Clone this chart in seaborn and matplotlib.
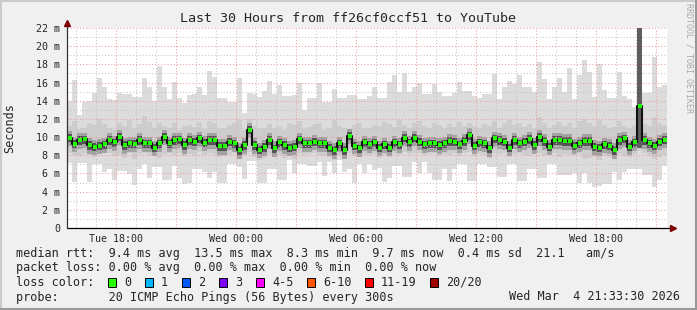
import numpy as np
import pandas as pd
import matplotlib
matplotlib.use("Agg")
import matplotlib.pyplot as plt
import matplotlib.dates as mdates
from matplotlib.patches import Rectangle
from matplotlib.lines import Line2D
from matplotlib.ticker import FixedLocator, FuncFormatter, MultipleLocator
import seaborn as sns

# ---------------- data ----------------
START = "2026-03-03 15:33:30"
END = "2026-03-04 21:33:30"
STEP = "15min"

median_ms = [
    9.93, 9.27, 9.67, 9.75, 9.13, 8.95, 9.05, 9.20, 9.67, 9.42, 10.04, 9.13, 9.31, 9.27, 9.67, 9.31, 9.31, 8.84, 9.31, 10.04,
    9.30, 9.67, 9.75, 9.13, 9.67, 9.50, 9.86, 9.38, 9.67, 9.67, 9.02, 9.02, 9.50, 9.31, 8.58, 9.13, 10.80, 9.13, 8.60, 8.90,
    9.67, 8.77, 9.42, 9.13, 8.84, 8.95, 9.75, 9.31, 9.31, 9.50, 9.31, 9.31, 8.84, 8.58, 9.31, 8.58, 10.15, 9.05, 8.77, 9.42,
    9.20, 9.42, 8.84, 9.20, 8.84, 9.42, 9.20, 9.93, 9.42, 9.93, 9.50, 9.20, 9.31, 9.31, 9.13, 9.31, 9.57, 9.50, 9.20, 9.57,
    10.20, 9.05, 9.42, 9.31, 8.77, 9.86, 9.67, 9.50, 8.84, 9.67, 9.31, 9.50, 9.78, 9.13, 10.00, 9.57, 8.95, 9.67, 9.67, 9.57,
    9.57, 9.05, 9.31, 9.57, 9.57, 8.95, 8.84, 9.20, 9.05, 8.58, 9.67, 9.86, 8.95, 9.42, 13.45, 9.67, 9.31, 9.05, 9.50, 9.70,
]
max_ms = [
    14.0, 16.3, 12.4, 13.9, 14.0, 14.9, 16.5, 15.5, 14.2, 14.1, 14.8, 14.7, 14.7, 14.4, 14.4, 16.5, 15.5, 14.0, 17.8, 15.5,
    14.2, 16.1, 14.3, 13.8, 14.6, 14.7, 15.5, 14.6, 17.3, 16.6, 14.3, 14.3, 13.9, 13.9, 16.5, 12.6, 14.8, 14.7, 14.4, 15.1,
    16.2, 14.7, 15.7, 14.5, 14.5, 14.6, 16.0, 13.0, 14.3, 14.3, 16.0, 13.9, 13.9, 15.3, 14.3, 14.3, 14.6, 14.6, 14.2, 14.2,
    14.5, 15.5, 14.3, 14.3, 16.1, 16.8, 15.0, 17.0, 15.0, 15.5, 16.0, 14.7, 14.7, 15.8, 15.0, 14.5, 14.5, 14.8, 16.1, 15.1,
    15.1, 14.5, 14.3, 14.7, 14.7, 16.9, 14.2, 15.5, 16.2, 15.8, 16.8, 15.5, 15.5, 15.0, 18.3, 16.4, 14.2, 15.5, 16.5, 15.0,
    17.6, 14.2, 16.8, 18.5, 17.2, 14.4, 18.0, 15.2, 14.3, 14.3, 17.2, 14.5, 14.2, 13.3, 22.0, 14.8, 14.8, 18.8, 15.5, 15.7,
]
min_ms = [
    7.2, 5.1, 7.1, 7.1, 5.1, 7.0, 7.0, 6.2, 6.5, 5.3, 6.3, 6.3, 5.9, 4.7, 6.5, 7.0, 5.5, 6.7, 6.7, 5.3,
    5.3, 6.8, 5.5, 4.8, 5.0, 6.5, 6.5, 6.2, 5.5, 6.2, 5.0, 5.0, 7.0, 7.0, 6.7, 5.4, 7.4, 7.4, 5.0, 5.0,
    6.5, 6.5, 5.3, 5.3, 7.5, 6.0, 7.0, 7.0, 6.8, 6.8, 7.3, 5.7, 7.3, 6.0, 7.5, 6.2, 6.5, 4.9, 7.0, 6.0,
    7.0, 6.4, 6.6, 5.1, 5.5, 6.8, 6.8, 5.6, 5.6, 7.3, 6.0, 7.3, 6.0, 5.3, 5.3, 6.5, 5.2, 6.5, 7.0, 7.0,
    5.2, 5.2, 7.0, 7.0, 6.7, 6.7, 5.6, 5.6, 7.0, 7.0, 5.2, 5.2, 6.5, 6.5, 5.5, 5.5, 7.0, 7.0, 5.8, 5.8,
    5.8, 6.0, 5.0, 6.0, 5.0, 4.5, 4.6, 4.8, 4.8, 6.2, 5.3, 6.2, 6.5, 6.5, 6.5, 5.8, 5.8, 4.5, 5.3, 6.8,
]
upper_ms = [
    11.2, 11.8, 10.9, 11.0, 11.5, 11.3, 12.0, 11.4, 11.0, 10.8, 11.6, 11.2, 11.9, 11.0, 11.4, 12.3, 11.7, 11.0, 11.5, 11.2,
    11.0, 11.6, 10.8, 11.2, 11.3, 11.1, 11.7, 10.9, 11.8, 11.5, 10.9, 11.0, 11.3, 11.6, 11.9, 10.8, 12.0, 11.2, 10.9, 11.0,
    11.4, 11.0, 11.2, 10.8, 11.6, 11.3, 11.8, 10.9, 11.1, 11.4, 11.6, 10.8, 11.0, 11.9, 11.2, 11.0, 10.9, 11.3, 11.5, 11.0,
    11.0, 11.3, 11.2, 11.7, 11.4, 11.1, 11.9, 11.3, 11.0, 11.6, 11.8, 11.2, 11.0, 11.5, 11.3, 11.0, 11.4, 11.1, 11.7, 11.2,
    11.6, 11.2, 11.0, 11.4, 11.2, 11.8, 11.0, 11.5, 11.9, 11.3, 11.6, 11.1, 11.4, 11.0, 12.2, 11.5, 11.0, 11.3, 11.7, 11.2,
    11.5, 11.0, 11.8, 12.0, 11.6, 11.2, 11.9, 11.3, 11.0, 11.1, 11.8, 11.2, 11.0, 11.3, 14.0, 11.4, 11.2, 12.2, 11.5, 11.3,
]
lower_ms = [
    8.3, 8.0, 7.9, 8.2, 8.0, 7.8, 8.1, 8.3, 8.2, 7.9, 8.0, 7.7, 8.2, 7.6, 8.1, 8.3, 7.9, 8.0, 7.7, 8.1,
    8.2, 8.0, 8.3, 7.9, 8.1, 8.0, 8.4, 8.0, 8.2, 8.1, 7.8, 7.9, 8.0, 8.3, 8.2, 7.9, 8.4, 7.8, 7.5, 7.7,
    8.1, 7.8, 8.0, 7.7, 7.9, 7.6, 8.2, 8.0, 8.1, 8.2, 8.0, 7.9, 7.8, 7.5, 8.0, 7.6, 8.2, 7.9, 7.8, 8.0,
    8.0, 8.1, 7.7, 8.0, 7.8, 8.1, 8.0, 8.4, 8.1, 8.3, 8.2, 8.0, 8.1, 8.2, 7.9, 8.1, 8.0, 8.2, 7.9, 8.2,
    8.4, 7.9, 8.1, 8.0, 7.7, 8.3, 8.1, 8.2, 7.8, 8.1, 8.2, 8.0, 7.9, 8.1, 8.2, 7.9, 8.0, 8.2, 7.8, 8.1,
    8.0, 7.9, 8.1, 7.6, 7.7, 7.8, 7.5, 7.9, 7.8, 8.0, 8.1, 7.9, 7.8, 8.1, 8.5, 8.2, 7.9, 7.6, 7.8, 8.0,
]
burst_start = ["2026-03-04 20:03:30"]
burst_low = [8.8]
burst_high = [22.0]

y_ticks = [0, 2, 4, 6, 8, 10, 12, 14, 16, 18, 20, 22]
y_tick_labels = ["0", "2 m", "4 m", "6 m", "8 m", "10 m", "12 m", "14 m", "16 m", "18 m", "20 m", "22 m"]
label_hours = [0, 6, 12, 18]

title = "Last 30 Hours from ff26cf0ccf51 to YouTube"
y_label = "Seconds"
side_note = "RRDTOOL / TOBI OETIKER"
legend_rtt = "median rtt:  9.4 ms avg  13.5 ms max  8.3 ms min  9.7 ms now  0.4 ms sd  21.1   am/s"
legend_loss = "packet loss: 0.00 % avg  0.00 % max  0.00 % min  0.00 % now"
loss_title = "loss color:"
loss_labels = ["0", "1", "2", "3", "4-5", "6-10", "11-19", "20/20"]
loss_colors = ["#26ff00", "#00b8ff", "#0059ff", "#7e00ff", "#ff00ff", "#ff5500", "#ff0000", "#a10000"]
probe_text = "probe:       20 ICMP Echo Pings (56 Bytes) every 300s"
stamp = "Wed Mar  4 21:33:30 2026"

# ---------------- style ----------------
sns.set_style("white")
plt.rcParams["font.family"] = ["DejaVu Sans Mono"]
W, H = 697, 310
MONO = "DejaVu Sans Mono"

fig = plt.figure(figsize=(W / 100, H / 100), dpi=100, facecolor="#f0f0f0")
ax = fig.add_axes([67 / W, 1 - 228 / H, 600 / W, 200 / H])
ax.set_facecolor("white")

edges = pd.date_range(START, periods=len(median_ms) + 1, freq=STEP)
centers = edges[:-1] + pd.Timedelta(STEP) / 2


def ext(v):
    return np.asarray(list(v) + [v[-1]], dtype=float)


med = ext(median_ms)
ax.fill_between(edges, ext(min_ms), ext(max_ms), step="post", color="#dcdcdc", lw=0, zorder=1)
ax.fill_between(edges, ext(lower_ms), ext(upper_ms), step="post", color="#cdcdcd", lw=0, zorder=1.1)
# smoke core around the median (band drawn like smokeping's median band)
ax.fill_between(edges, med - 0.95, med + 0.75, step="post", color="#a2a2a2", lw=0, zorder=1.2)
ax.fill_between(edges, med - 0.5, med + 0.4, step="post", color="#555555", lw=0, zorder=1.3)
for s, lo, hi in zip(pd.to_datetime(burst_start), burst_low, burst_high):
    ax.fill_between([s, s + pd.Timedelta(STEP)], [lo, lo], [hi, hi], color="#5e5e5e", lw=0, zorder=2.7)
sns.lineplot(x=edges, y=med, drawstyle="steps-post", color="#111111", lw=1.5, ax=ax, zorder=3)
sns.scatterplot(x=centers, y=median_ms, marker="s", s=5, color="#22ff00", linewidth=0, ax=ax, zorder=4)

ax.set_xlim(pd.Timestamp(START), pd.Timestamp(END))
ax.set_ylim(0, 22)
ax.set_xlabel("")
ax.set_ylabel("")
for sp in ax.spines.values():
    sp.set_visible(False)

ax.yaxis.set_major_locator(FixedLocator(y_ticks))
ax.set_yticklabels(y_tick_labels)
ax.yaxis.set_minor_locator(MultipleLocator(1))
ax.xaxis.set_major_locator(mdates.HourLocator(byhour=range(0, 24, 3)))
ax.xaxis.set_minor_locator(mdates.HourLocator())


def fmt(v, pos):
    d = mdates.num2date(v)
    return d.strftime("%a %H:%M") if d.hour in label_hours and d.minute == 0 else ""


ax.xaxis.set_major_formatter(FuncFormatter(fmt))
ax.set_axisbelow(False)
ax.grid(True, which="major", color="#f09c9c", linestyle=(0, (1, 2)), lw=0.75)
ax.grid(True, which="minor", color="#c4c4c4", linestyle=(0, (1, 2)), lw=0.75)
ax.tick_params(axis="x", which="major", length=2, width=0.75, color="#d06060", pad=2.6, labelsize=7.2)
ax.tick_params(axis="y", which="major", length=1.8, width=0.75, color="#333333", pad=3.2, labelsize=7.2)
ax.tick_params(which="minor", length=0)

# axes lines with arrows
ax.plot([0, 1.008], [0, 0], transform=ax.transAxes, color="black", lw=0.9, clip_on=False, zorder=5)
ax.plot([0, 0], [0, 1.02], transform=ax.transAxes, color="#333333", lw=0.9, clip_on=False, zorder=5)
ax.plot([1.0095], [0], marker=">", ms=4, color="#7f0000", transform=ax.transAxes, clip_on=False, zorder=6)
ax.plot([0], [1.025], marker="^", ms=4, color="#7f0000", transform=ax.transAxes, clip_on=False, zorder=6)


def fx(x):
    return x / W


def fy(y):
    return 1 - y / H


fig.text(fx(348), fy(19), title, ha="center", va="center", family=MONO, size=9.6)
fig.text(fx(10), fy(128), y_label, ha="center", va="center", rotation=90, family=MONO, size=8.5)
fig.text(fx(689), fy(58), side_note, ha="center", va="center", rotation=270, family=MONO, size=6,
         color="#a8a8a8")
fig.text(fx(16), fy(254), legend_rtt, ha="left", va="center", family=MONO, size=8.5)
fig.text(fx(16), fy(268), legend_loss, ha="left", va="center", family=MONO, size=8.5)
fig.text(fx(16), fy(282), loss_title, ha="left", va="center", family=MONO, size=8.5)
box_x = [108, 145, 182, 219, 256, 307, 365, 430]
for bx, lab, col in zip(box_x, loss_labels, loss_colors):
    fig.add_artist(Rectangle((fx(bx), fy(287)), 8 / W, 9 / H, transform=fig.transFigure,
                             facecolor=col, edgecolor="black", lw=0.7))
    fig.text(fx(bx + 16), fy(282), lab, ha="left", va="center", family=MONO, size=8.5)
fig.text(fx(16), fy(297), probe_text, ha="left", va="center", family=MONO, size=8.5)
fig.text(fx(680), fy(297), stamp, ha="right", va="center", family=MONO, size=8.5)

# 3D frame
fig.add_artist(Line2D([0, 1], [fy(1), fy(1)], transform=fig.transFigure, color="#cbcbcb", lw=1.5))
fig.add_artist(Line2D([fx(1), fx(1)], [0, 1], transform=fig.transFigure, color="#cbcbcb", lw=1.5))
fig.add_artist(Line2D([0, 1], [fy(309), fy(309)], transform=fig.transFigure, color="#999999", lw=1.5))
fig.add_artist(Line2D([fx(696), fx(696)], [0, 1], transform=fig.transFigure, color="#999999", lw=1.5))

fig.savefig("out.png", dpi=100, facecolor=fig.get_facecolor())
